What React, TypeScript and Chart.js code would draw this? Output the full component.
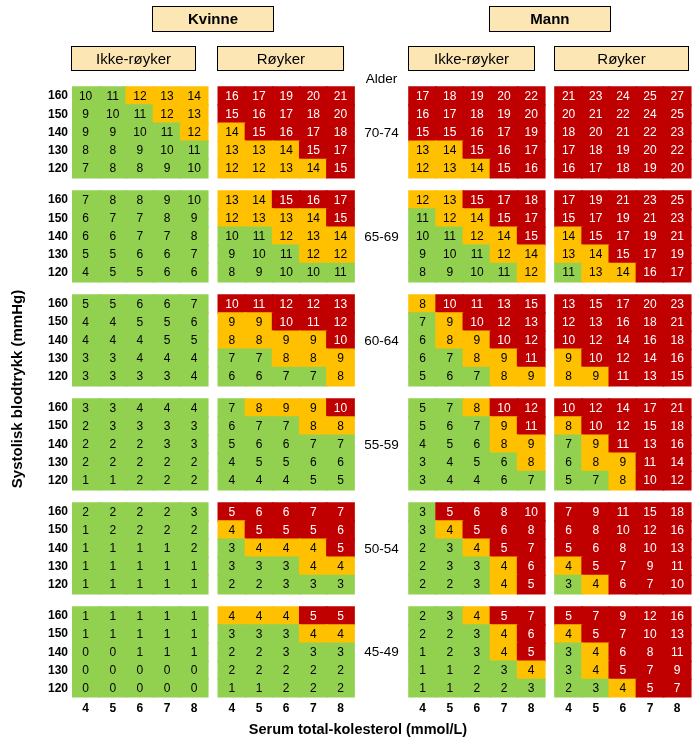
import React, { useEffect, useRef } from 'react';
import { Chart, registerables } from 'chart.js';

Chart.register(...registerables);

const FONT = "'Liberation Sans', Arial, Helvetica, sans-serif";

// ---------- texts ----------
const sexTitles = ['Kvinne', 'Mann'];
const smokingTitles = ['Ikke-røyker', 'Røyker', 'Ikke-røyker', 'Røyker'];
const ageTitle = 'Alder';
const ageGroups = ['70-74', '65-69', '60-64', '55-59', '50-54', '45-49'];
const bpLabels = ['160', '150', '140', '130', '120'];
const cholLabels = ['4', '5', '6', '7', '8'];
const yTitle = 'Systolisk blodtrykk (mmHg)';
const xTitle = 'Serum total-kolesterol (mmol/L)';

// risk class limits per age group (same order as ageGroups)
const yellowFrom = [12, 12, 8, 8, 4, 4];
const redFrom = [15, 15, 10, 10, 5, 5];

// ---------- values: [age group][blood pressure 160..120][cholesterol 4..8] ----------
const kvinneIkkeRoyker = [
  [[10, 11, 12, 13, 14], [9, 10, 11, 12, 13], [9, 9, 10, 11, 12], [8, 8, 9, 10, 11], [7, 8, 8, 9, 10]],
  [[7, 8, 8, 9, 10], [6, 7, 7, 8, 9], [6, 6, 7, 7, 8], [5, 5, 6, 6, 7], [4, 5, 5, 6, 6]],
  [[5, 5, 6, 6, 7], [4, 4, 5, 5, 6], [4, 4, 4, 5, 5], [3, 3, 4, 4, 4], [3, 3, 3, 3, 4]],
  [[3, 3, 4, 4, 4], [2, 3, 3, 3, 3], [2, 2, 2, 3, 3], [2, 2, 2, 2, 2], [1, 1, 2, 2, 2]],
  [[2, 2, 2, 2, 3], [1, 2, 2, 2, 2], [1, 1, 1, 1, 2], [1, 1, 1, 1, 1], [1, 1, 1, 1, 1]],
  [[1, 1, 1, 1, 1], [1, 1, 1, 1, 1], [0, 0, 1, 1, 1], [0, 0, 0, 0, 0], [0, 0, 0, 0, 0]],
];
const kvinneRoyker = [
  [[16, 17, 19, 20, 21], [15, 16, 17, 18, 20], [14, 15, 16, 17, 18], [13, 13, 14, 15, 17], [12, 12, 13, 14, 15]],
  [[13, 14, 15, 16, 17], [12, 13, 13, 14, 15], [10, 11, 12, 13, 14], [9, 10, 11, 12, 12], [8, 9, 10, 10, 11]],
  [[10, 11, 12, 12, 13], [9, 9, 10, 11, 12], [8, 8, 9, 9, 10], [7, 7, 8, 8, 9], [6, 6, 7, 7, 8]],
  [[7, 8, 9, 9, 10], [6, 7, 7, 8, 8], [5, 6, 6, 7, 7], [4, 5, 5, 6, 6], [4, 4, 4, 5, 5]],
  [[5, 6, 6, 7, 7], [4, 5, 5, 5, 6], [3, 4, 4, 4, 5], [3, 3, 3, 4, 4], [2, 2, 3, 3, 3]],
  [[4, 4, 4, 5, 5], [3, 3, 3, 4, 4], [2, 2, 3, 3, 3], [2, 2, 2, 2, 2], [1, 1, 2, 2, 2]],
];
const mannIkkeRoyker = [
  [[17, 18, 19, 20, 22], [16, 17, 18, 19, 20], [15, 15, 16, 17, 19], [13, 14, 15, 16, 17], [12, 13, 14, 15, 16]],
  [[12, 13, 15, 17, 18], [11, 12, 14, 15, 17], [10, 11, 12, 14, 15], [9, 10, 11, 12, 14], [8, 9, 10, 11, 12]],
  [[8, 10, 11, 13, 15], [7, 9, 10, 12, 13], [6, 8, 9, 10, 12], [6, 7, 8, 9, 11], [5, 6, 7, 8, 9]],
  [[5, 7, 8, 10, 12], [5, 6, 7, 9, 11], [4, 5, 6, 8, 9], [3, 4, 5, 6, 8], [3, 4, 4, 6, 7]],
  [[3, 5, 6, 8, 10], [3, 4, 5, 6, 8], [2, 3, 4, 5, 7], [2, 3, 3, 4, 6], [2, 2, 3, 4, 5]],
  [[2, 3, 4, 5, 7], [2, 2, 3, 4, 6], [1, 2, 3, 4, 5], [1, 1, 2, 3, 4], [1, 1, 2, 2, 3]],
];
const mannRoyker = [
  [[21, 23, 24, 25, 27], [20, 21, 22, 24, 25], [18, 20, 21, 22, 23], [17, 18, 19, 20, 22], [16, 17, 18, 19, 20]],
  [[17, 19, 21, 23, 25], [15, 17, 19, 21, 23], [14, 15, 17, 19, 21], [13, 14, 15, 17, 19], [11, 13, 14, 16, 17]],
  [[13, 15, 17, 20, 23], [12, 13, 16, 18, 21], [10, 12, 14, 16, 18], [9, 10, 12, 14, 16], [8, 9, 11, 13, 15]],
  [[10, 12, 14, 17, 21], [8, 10, 12, 15, 18], [7, 9, 11, 13, 16], [6, 8, 9, 11, 14], [5, 7, 8, 10, 12]],
  [[7, 9, 11, 15, 18], [6, 8, 10, 12, 16], [5, 6, 8, 10, 13], [4, 5, 7, 9, 11], [3, 4, 6, 7, 10]],
  [[5, 7, 9, 12, 16], [4, 5, 7, 10, 13], [3, 4, 6, 8, 11], [3, 4, 5, 7, 9], [2, 3, 4, 5, 7]],
];
const panels = [kvinneIkkeRoyker, kvinneRoyker, mannIkkeRoyker, mannRoyker];

// ---------- layout / style ----------
const GREEN = '#92D050';
const YELLOW = '#FFC000';
const RED = '#C00000';
const HEADER_FILL = '#FCE6B4';
const PANEL_X = [0, 5.389, 12.413, 17.79]; // x scale value of first column of each panel
const GROUP_PITCH = 5.736; // y scale distance between age groups (rows = 1)

type Cell = { x: number; y: [number, number]; v: number; g: number };
const cells: Cell[] = [];
panels.forEach((panel, p) =>
  panel.forEach((grid, g) =>
    grid.forEach((row, r) =>
      row.forEach((v, c) => {
        const base = (ageGroups.length - 1 - g) * GROUP_PITCH + (bpLabels.length - 1 - r);
        cells.push({ x: PANEL_X[p] + c, y: [base, base + 1], v, g });
      })
    )
  )
);

const cellColor = (c: Cell) => (c.v >= redFrom[c.g] ? RED : c.v >= yellowFrom[c.g] ? YELLOW : GREEN);

// tick definitions
const xTicks: { value: number; label: string }[] = [];
PANEL_X.forEach((px) => cholLabels.forEach((l, c) => xTicks.push({ value: px + c, label: l })));
const yTicks: { value: number; label: string }[] = [];
ageGroups.forEach((_, gi) => {
  const gb = (ageGroups.length - 1 - gi) * GROUP_PITCH;
  bpLabels.forEach((l, r) => yTicks.push({ value: gb + (bpLabels.length - 1 - r) + 0.5, label: l }));
});

const overlay = {
  id: 'overlay',
  afterDatasetsDraw(chart: any) {
    const ctx: CanvasRenderingContext2D = chart.ctx;
    const xs = chart.scales.x;
    const ys = chart.scales.y;
    const meta = chart.getDatasetMeta(0);
    ctx.save();
    ctx.textAlign = 'center';
    ctx.textBaseline = 'middle';
    ctx.font = `12px ${FONT}`;
    meta.data.forEach((el: any, i: number) => {
      const c = cells[i];
      const { x, y, base } = el.getProps(['x', 'y', 'base'], true);
      ctx.fillStyle = c.v >= redFrom[c.g] ? '#FFFFFF' : '#000000';
      ctx.fillText(String(c.v), x, (y + base) / 2 + 0.5);
    });

    // age labels
    const midX = (xs.getPixelForValue(PANEL_X[1] + 4.5) + xs.getPixelForValue(PANEL_X[2] - 0.5)) / 2;
    ctx.fillStyle = '#000000';
    ctx.font = `13.5px ${FONT}`;
    ageGroups.forEach((a, gi) => {
      const gb = (ageGroups.length - 1 - gi) * GROUP_PITCH;
      ctx.fillText(a, midX, ys.getPixelForValue(gb + 2.5) + 0.5);
    });
    const topPx = ys.getPixelForValue((ageGroups.length - 1) * GROUP_PITCH + bpLabels.length);
    ctx.fillText(ageTitle, midX, topPx - 8);

    // header boxes
    const box = (x0: number, x1: number, y0: number, y1: number, text: string, font: string) => {
      ctx.fillStyle = HEADER_FILL;
      ctx.fillRect(x0, y0, x1 - x0, y1 - y0);
      ctx.strokeStyle = '#000000';
      ctx.lineWidth = 1;
      ctx.strokeRect(Math.round(x0) + 0.5, Math.round(y0) + 0.5, Math.round(x1 - x0) - 1, Math.round(y1 - y0) - 1);
      ctx.fillStyle = '#000000';
      ctx.font = font;
      ctx.fillText(text, (x0 + x1) / 2, (y0 + y1) / 2 + 1);
    };
    const left = (p: number) => xs.getPixelForValue(PANEL_X[p] - 0.5);
    const right = (p: number) => xs.getPixelForValue(PANEL_X[p] + 4.5);
    sexTitles.forEach((s, i) => {
      const cx = (left(i * 2) + right(i * 2 + 1)) / 2;
      box(cx - 61, cx + 61, topPx - 81, topPx - 55, s, `bold 15px ${FONT}`);
    });
    const subWidths = [125, 127, 127, 135];
    smokingTitles.forEach((s, p) => {
      const x0 = left(p) - 1;
      box(x0, x0 + subWidths[p], topPx - 41, topPx - 16, s, `15px ${FONT}`);
    });

    // axis titles
    ctx.fillStyle = '#000000';
    ctx.font = `bold 14.5px ${FONT}`;
    ctx.fillText(xTitle, 358, 730);
    ctx.save();
    ctx.translate(18, 389);
    ctx.rotate(-Math.PI / 2);
    ctx.font = `bold 15px ${FONT}`;
    ctx.fillText(yTitle, 0, 0);
    ctx.restore();
    ctx.restore();
  },
};

export default function App() {
  const ref = useRef<HTMLCanvasElement>(null);
  useEffect(() => {
    if (!ref.current) return;
    const chart = new Chart(ref.current, {
      type: 'bar',
      data: {
        datasets: [
          {
            data: cells as any,
            backgroundColor: (ctx: any) => cellColor(cells[ctx.dataIndex] || cells[0]),
            borderWidth: 0,
            barPercentage: 1,
            categoryPercentage: 1,
            inflateAmount: 0.8,
            grouped: false,
          } as any,
        ],
      },
      options: {
        animation: false,
        responsive: false,
        maintainAspectRatio: false,
        devicePixelRatio: 1,
        layout: { padding: 0 },
        plugins: { legend: { display: false }, tooltip: { enabled: false }, title: { display: false } },
        scales: {
          x: {
            type: 'linear',
            offset: false,
            min: -0.5,
            max: 22.557,
            grid: { display: false, drawTicks: false },
            border: { display: false },
            afterBuildTicks: (s: any) => {
              s.ticks = xTicks.map((t) => ({ value: t.value }));
            },
            afterFit: (s: any) => {
              s.height = 53.4;
              s.paddingLeft = 0;
              s.paddingRight = 0;
            },
            ticks: {
              autoSkip: false,
              maxRotation: 0,
              minRotation: 0,
              padding: 4,
              color: '#000000',
              font: { family: FONT, size: 12, weight: 'bold' },
              callback: (_v: any, i: number) => xTicks[i]?.label ?? '',
            },
          },
          y: {
            type: 'linear',
            min: 0,
            max: 38.48,
            grid: { display: false, drawTicks: false },
            border: { display: false },
            afterBuildTicks: (s: any) => {
              s.ticks = yTicks.map((t) => ({ value: t.value }));
            },
            afterFit: (s: any) => {
              s.width = 72;
              s.paddingTop = 0;
              s.paddingBottom = 0;
            },
            ticks: {
              autoSkip: false,
              padding: 4,
              color: '#000000',
              font: { family: FONT, size: 12, weight: 'bold' },
              callback: (_v: any, i: number) => yTicks[i]?.label ?? '',
            },
          },
        },
      } as any,
      plugins: [overlay],
    });
    return () => chart.destroy();
  }, []);
  return (
    <canvas
      ref={ref}
      width={698}
      height={751}
      style={{ position: 'absolute', left: 0, top: 0, width: 698, height: 751, display: 'block' }}
    />
  );
}
